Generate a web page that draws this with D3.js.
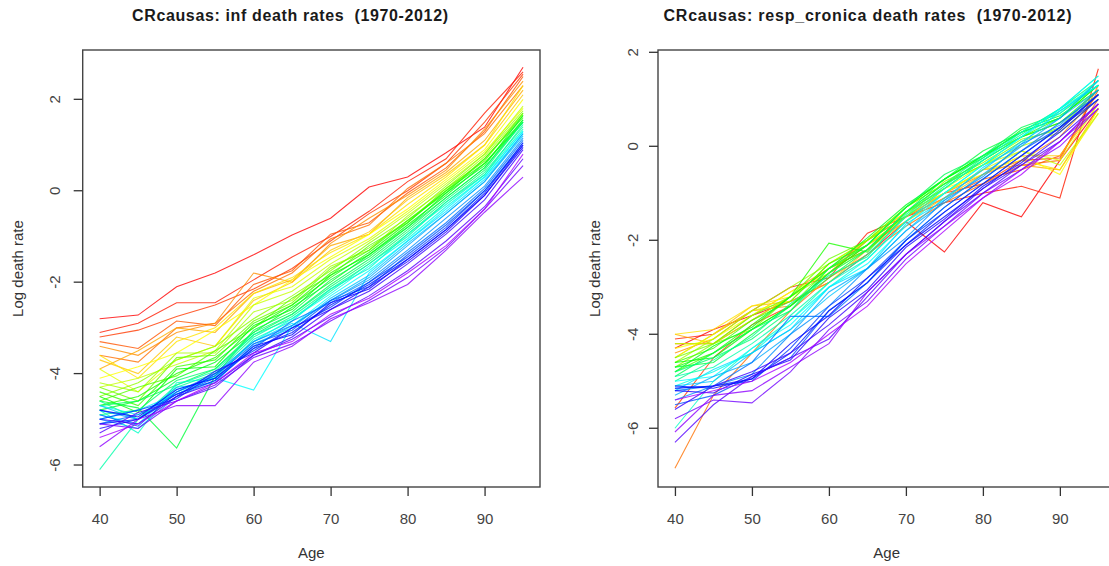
<!DOCTYPE html>
<html><head><meta charset="utf-8">
<script src="https://cdn.jsdelivr.net/npm/d3@7"></script>
<style>body{margin:0;background:#fff;} svg{display:block;font-family:"Liberation Sans",Arial,sans-serif;} .ttl{white-space:pre;}</style>
</head><body><svg id="c" width="1109" height="566"></svg>
<script>
const ages = [40,45,50,55,60,65,70,75,80,85,90,95];
const years = [1970,1971,1972,1973,1974,1975,1976,1977,1978,1979,1980,1981,1982,1983,1984,1985,1986,1987,1988,1989,1990,1991,1992,1993,1994,1995,1996,1997,1998,1999,2000,2001,2002,2003,2004,2005,2006,2007,2008,2009,2010,2011,2012];
const xTicks = [40,50,60,70,80,90];
const yTicksInf = [-6,-4,-2,0,2];
const yTicksResp = [-6,-4,-2,0,2];
const titles = ["CRcausas: inf death rates  (1970-2012)", "CRcausas: resp_cronica death rates  (1970-2012)"];

const infRates = [
[-2.80,-2.72,-2.10,-1.80,-1.40,-0.97,-0.60,0.08,0.30,0.83,1.39,2.70],
[-3.10,-2.90,-2.45,-2.45,-1.95,-1.45,-1.00,-0.45,0.20,0.70,1.70,2.60],
[-3.20,-3.05,-2.75,-2.50,-2.15,-1.70,-1.10,-0.50,0.00,0.60,1.50,2.55],
[-3.30,-3.45,-2.85,-2.95,-2.05,-1.75,-0.95,-0.70,-0.05,0.50,1.30,2.50],
[-3.60,-3.75,-3.00,-2.90,-2.20,-1.80,-1.05,-0.75,0.05,0.60,1.25,2.30],
[-3.40,-3.60,-3.10,-2.90,-1.80,-2.00,-1.15,-0.60,-0.10,0.45,1.35,2.40],
[-3.90,-3.50,-3.00,-3.10,-2.25,-1.95,-1.20,-0.95,-0.15,0.40,1.10,2.20],
[-3.70,-4.00,-3.20,-3.40,-2.40,-2.00,-1.30,-0.90,-0.20,0.35,1.00,2.10],
[-3.60,-4.10,-3.30,-3.00,-2.25,-1.90,-1.35,-0.95,-0.30,0.30,1.00,2.30],
[-4.10,-3.85,-3.55,-3.05,-2.50,-1.95,-1.45,-0.95,-0.40,0.25,0.90,2.00],
[-3.90,-4.40,-3.70,-3.40,-2.35,-2.10,-1.50,-1.05,-0.45,0.20,0.85,1.80],
[-4.30,-4.10,-3.80,-3.50,-2.50,-2.20,-1.60,-1.10,-0.50,0.15,0.80,1.85],
[-4.20,-4.40,-3.55,-3.55,-2.65,-2.40,-1.65,-1.30,-0.55,0.05,0.75,1.70],
[-4.50,-4.20,-3.70,-3.40,-2.80,-2.30,-1.75,-1.15,-0.60,0.10,0.80,1.75],
[-4.30,-4.60,-3.65,-3.60,-2.85,-2.45,-1.70,-1.25,-0.65,0.00,0.70,1.65],
[-4.60,-4.30,-4.05,-3.50,-3.00,-2.35,-1.85,-1.20,-0.70,0.05,0.65,1.70],
[-4.40,-4.70,-3.85,-3.70,-2.90,-2.50,-1.80,-1.30,-0.65,-0.05,0.70,1.60],
[-4.70,-4.50,-4.00,-3.65,-3.00,-2.50,-1.90,-1.35,-0.70,0.00,0.60,1.55],
[-4.50,-4.85,-3.90,-3.85,-2.95,-2.60,-1.85,-1.40,-0.75,-0.10,0.60,1.50],
[-4.80,-4.60,-4.10,-3.75,-3.10,-2.55,-2.00,-1.40,-0.80,-0.05,0.55,1.65],
[-4.60,-4.75,-5.63,-4.05,-3.05,-2.65,-1.95,-1.45,-0.80,-0.15,0.50,1.55],
[-4.70,-4.60,-4.25,-3.90,-3.15,-2.70,-2.05,-1.50,-0.85,-0.15,0.50,1.50],
[-4.90,-4.80,-4.15,-3.90,-3.10,-2.70,-2.10,-1.55,-0.90,-0.20,0.45,1.50],
[-4.60,-5.00,-4.30,-4.00,-3.20,-2.75,-2.15,-1.60,-0.95,-0.25,0.40,1.40],
[-6.10,-5.00,-4.25,-3.95,-3.15,-2.80,-2.20,-1.60,-1.00,-0.25,0.35,1.45],
[-4.80,-5.30,-4.20,-4.10,-3.25,-2.85,-2.15,-1.70,-0.95,-0.30,0.35,1.35],
[-4.70,-4.90,-4.40,-4.05,-3.30,-2.80,-2.25,-1.65,-1.05,-0.35,0.30,1.30],
[-4.90,-5.10,-4.35,-4.10,-4.36,-2.95,-2.30,-1.75,-1.10,-0.40,0.30,1.30],
[-5.00,-4.80,-4.45,-4.05,-3.30,-2.90,-3.30,-1.80,-1.10,-0.45,0.25,1.25],
[-4.70,-5.00,-4.30,-4.20,-3.35,-3.00,-2.35,-1.85,-1.15,-0.50,0.20,1.20],
[-5.00,-5.20,-4.50,-4.15,-3.40,-2.95,-2.40,-1.90,-1.20,-0.50,0.20,1.25],
[-4.80,-5.00,-4.40,-4.00,-3.30,-2.95,-2.40,-1.95,-1.30,-0.60,0.10,1.15],
[-5.10,-4.90,-4.45,-4.10,-3.45,-2.85,-2.45,-2.00,-1.35,-0.70,0.05,1.10],
[-4.90,-5.15,-4.40,-4.05,-3.35,-3.05,-2.40,-2.10,-1.40,-0.75,0.00,1.05],
[-5.00,-4.80,-4.55,-4.00,-3.50,-3.00,-2.55,-2.00,-1.45,-0.80,0.00,1.00],
[-5.10,-5.00,-4.45,-4.15,-3.45,-3.10,-2.50,-2.05,-1.50,-0.85,-0.05,1.05],
[-4.80,-4.95,-4.35,-4.10,-3.40,-3.15,-2.45,-2.15,-1.50,-0.85,-0.10,0.95],
[-5.20,-5.00,-4.50,-3.95,-3.55,-3.00,-2.60,-2.10,-1.55,-0.90,-0.10,1.00],
[-5.00,-5.10,-4.50,-4.20,-3.60,-3.20,-2.60,-2.20,-1.60,-0.95,-0.20,0.90],
[-5.30,-4.85,-4.60,-4.30,-3.60,-3.25,-2.75,-2.30,-1.75,-1.10,-0.35,0.70],
[-5.10,-5.20,-4.60,-4.25,-3.65,-3.35,-2.85,-2.40,-1.90,-1.25,-0.40,0.55],
[-5.60,-5.00,-4.70,-4.70,-3.75,-3.40,-2.80,-2.45,-2.05,-1.30,-0.47,0.30],
[-5.40,-5.10,-4.60,-4.20,-3.55,-3.30,-2.70,-2.35,-1.80,-1.20,-0.40,0.80]
];

const respRates = [
[-4.30,-3.90,-3.60,-3.30,-2.90,-2.30,-1.60,-2.25,-1.20,-1.50,-0.30,0.80],
[-4.10,-4.00,-3.50,-3.00,-2.80,-1.85,-1.50,-1.20,-1.00,-0.85,-1.10,1.65],
[-5.57,-4.50,-3.80,-3.40,-2.70,-2.00,-1.50,-1.00,-0.80,-0.30,-0.25,1.20],
[-4.20,-4.20,-3.70,-3.20,-2.60,-2.20,-1.50,-1.10,-0.70,-0.50,-0.20,1.00],
[-6.85,-5.30,-4.40,-3.50,-2.80,-2.30,-1.70,-1.20,-0.80,-0.40,-0.30,1.30],
[-4.40,-4.10,-3.50,-3.40,-2.70,-2.10,-1.60,-1.00,-0.60,-0.30,0.20,1.10],
[-4.00,-4.20,-3.60,-3.10,-2.60,-2.00,-1.40,-1.00,-0.50,-0.40,-0.50,0.80],
[-4.50,-4.00,-3.40,-3.30,-2.90,-2.20,-1.60,-1.10,-0.60,-0.20,-0.20,0.90],
[-4.00,-3.90,-3.40,-3.20,-2.60,-2.10,-1.50,-1.00,-0.50,-0.30,-0.50,0.70],
[-4.30,-4.10,-3.60,-3.10,-2.70,-2.20,-1.40,-0.90,-0.60,-0.20,-0.60,0.80],
[-4.50,-4.00,-3.50,-3.30,-2.50,-2.00,-1.40,-1.00,-0.50,-0.10,-0.30,0.90],
[-4.20,-4.20,-3.70,-3.20,-2.60,-2.10,-1.50,-0.90,-0.40,-0.10,-0.40,0.70],
[-4.60,-4.10,-3.50,-3.00,-2.50,-2.00,-1.30,-0.80,-0.40,0.00,0.30,1.00],
[-4.70,-4.20,-3.90,-3.20,-2.70,-2.00,-1.50,-0.75,-0.35,0.15,0.35,1.10],
[-4.50,-4.20,-3.60,-3.20,-2.40,-2.00,-1.30,-0.80,-0.40,0.10,0.40,1.20],
[-4.80,-4.40,-3.90,-3.40,-2.60,-2.20,-1.40,-0.90,-0.30,0.20,0.50,1.10],
[-4.60,-4.30,-3.70,-3.30,-2.50,-2.10,-1.30,-0.70,-0.20,0.20,0.60,1.30],
[-4.70,-4.40,-3.80,-3.20,-2.06,-2.25,-1.40,-0.80,-0.30,0.20,0.50,1.20],
[-4.60,-4.50,-3.90,-3.40,-2.70,-2.10,-1.30,-0.70,-0.20,0.30,0.60,1.30],
[-4.80,-4.25,-3.85,-3.20,-2.60,-1.95,-1.25,-0.70,-0.25,0.35,0.65,1.20],
[-4.70,-4.60,-4.00,-3.40,-2.80,-2.20,-1.40,-0.70,-0.10,0.30,0.60,1.40],
[-4.90,-4.40,-3.90,-3.50,-2.60,-2.10,-1.30,-0.60,-0.20,0.40,0.70,1.30],
[-4.80,-4.50,-4.10,-3.50,-2.70,-2.20,-1.40,-0.80,-0.20,0.30,0.80,1.40],
[-5.00,-4.55,-4.05,-3.35,-2.75,-2.35,-1.45,-0.85,-0.25,0.25,0.75,1.30],
[-4.90,-4.70,-4.20,-3.60,-2.90,-2.30,-1.50,-0.90,-0.30,0.20,0.80,1.50],
[-6.00,-5.00,-4.30,-3.70,-2.90,-2.40,-1.60,-0.90,-0.30,0.30,0.80,1.30],
[-5.10,-4.80,-4.40,-3.70,-3.00,-2.40,-1.60,-1.00,-0.40,0.20,0.70,1.40],
[-5.00,-4.90,-4.30,-3.80,-3.00,-2.50,-1.70,-1.00,-0.40,0.20,0.80,1.50],
[-5.20,-4.75,-4.40,-3.90,-3.00,-2.60,-1.65,-1.15,-0.45,0.05,0.75,1.30],
[-5.10,-5.00,-4.40,-3.90,-3.20,-2.60,-1.80,-1.10,-0.50,0.10,0.60,1.40],
[-5.30,-4.90,-4.60,-4.00,-3.10,-2.60,-1.80,-1.20,-0.60,0.00,0.60,1.20],
[-5.40,-5.10,-4.85,-4.00,-3.40,-2.60,-1.95,-1.15,-0.65,0.05,0.45,1.20],
[-5.20,-5.10,-4.60,-3.62,-3.62,-2.90,-2.00,-1.30,-0.70,-0.10,0.50,1.10],
[-5.50,-5.30,-4.90,-4.50,-3.50,-2.90,-2.00,-1.30,-0.70,-0.10,0.40,1.10],
[-5.15,-5.10,-5.00,-4.30,-3.40,-2.80,-2.00,-1.40,-0.80,-0.20,0.40,1.00],
[-5.15,-5.10,-4.95,-4.40,-3.50,-2.90,-2.10,-1.40,-0.80,-0.20,0.40,1.10],
[-5.10,-5.15,-4.95,-4.20,-3.60,-2.80,-2.10,-1.50,-0.90,-0.30,0.30,1.00],
[-5.20,-5.25,-4.85,-4.55,-3.65,-3.05,-2.15,-1.55,-0.85,-0.35,0.35,1.10],
[-5.60,-5.10,-4.80,-4.40,-3.80,-3.10,-2.30,-1.60,-0.90,-0.40,0.20,0.90],
[-6.30,-5.50,-4.90,-4.50,-4.10,-3.20,-2.30,-1.60,-1.00,-0.40,0.10,0.90],
[-5.80,-5.40,-5.46,-4.80,-3.90,-3.30,-2.40,-1.70,-1.00,-0.50,0.10,0.80],
[-6.08,-5.30,-5.20,-4.70,-4.20,-3.10,-2.30,-1.70,-1.10,-0.50,0.00,0.80],
[-5.40,-5.20,-5.00,-4.60,-4.00,-3.40,-2.50,-1.80,-1.10,-0.60,0.10,0.90]
];

const svg = d3.select("#c");
const nCol = Math.round(years.length * 1.25);
const color = i => d3.hsl(i / nCol * 360, 1, 0.5).toString();

const panels = [
  {title: titles[0], rates: infRates, yTicks: yTicksInf, xr: [82.7, 540], yd: [-6.481, 3.079], titleX: 290, titleW: 316, yLabX: 55, yTitX: 18},
  {title: titles[1], rates: respRates, yTicks: yTicksResp, xr: [658, 1115.3], yd: [-7.25, 2.049], titleX: 867.5, titleW: 408, yLabX: 632.5, yTitX: 595}
];
const plotTop = 50, plotBottom = 487;

panels.forEach(p => {
  const x = d3.scaleLinear().domain([37.8, 97.2]).range(p.xr);
  const y = d3.scaleLinear().domain(p.yd).range([plotBottom, plotTop]);
  const g = svg.append("g");

  const line = d3.line().x((d, j) => x(ages[j])).y(d => y(d));
  g.append("g").selectAll("path").data(p.rates).join("path")
    .attr("d", line)
    .attr("fill", "none")
    .attr("stroke", (d, i) => color(i))
    .attr("stroke-width", 1.1)
    .attr("stroke-opacity", 0.8);

  g.append("rect").attr("x", p.xr[0]).attr("y", plotTop)
    .attr("width", p.xr[1] - p.xr[0]).attr("height", plotBottom - plotTop)
    .attr("fill", "none").attr("stroke", "#444").attr("stroke-width", 1.4);

  const xa = g.append("g").attr("transform", `translate(0,${plotBottom})`)
    .call(d3.axisBottom(x).tickValues(xTicks).tickSize(9).tickSizeOuter(0).tickPadding(17));
  xa.select(".domain").remove();
  xa.selectAll("line").attr("stroke", "#333").attr("stroke-width", 1.3);
  xa.selectAll("text").attr("font-size", 15).attr("fill", "#444")
    .attr("font-family", "'Liberation Sans', Arial, sans-serif");

  g.append("g").selectAll("line").data(p.yTicks).join("line")
    .attr("x1", p.xr[0] - 9).attr("x2", p.xr[0])
    .attr("y1", d => y(d)).attr("y2", d => y(d))
    .attr("stroke", "#333").attr("stroke-width", 1.3);
  g.append("g").selectAll("text").data(p.yTicks).join("text")
    .attr("x", p.yLabX).attr("y", d => y(d))
    .attr("transform", d => `rotate(-90,${p.yLabX},${y(d)})`)
    .attr("text-anchor", "middle").attr("dy", "0.35em")
    .attr("font-size", 15).attr("fill", "#444")
    .text(d => d);

  g.append("text").attr("class", "ttl").attr("x", p.titleX).attr("y", 21)
    .attr("text-anchor", "middle").attr("font-size", 16).attr("font-weight", "bold")
    .attr("fill", "#1a1a1a").attr("textLength", p.titleW).attr("lengthAdjust", "spacing")
    .text(p.title);
  g.append("text").attr("x", (p.xr[0] + p.xr[1]) / 2).attr("y", 553)
    .attr("text-anchor", "middle").attr("dy", "0.35em").attr("font-size", 15).attr("fill", "#333")
    .text("Age");
  g.append("text").attr("transform", `translate(${p.yTitX},268.5) rotate(-90)`)
    .attr("text-anchor", "middle").attr("dy", "0.35em").attr("font-size", 15).attr("fill", "#333")
    .text("Log death rate");
});
</script></body></html>
